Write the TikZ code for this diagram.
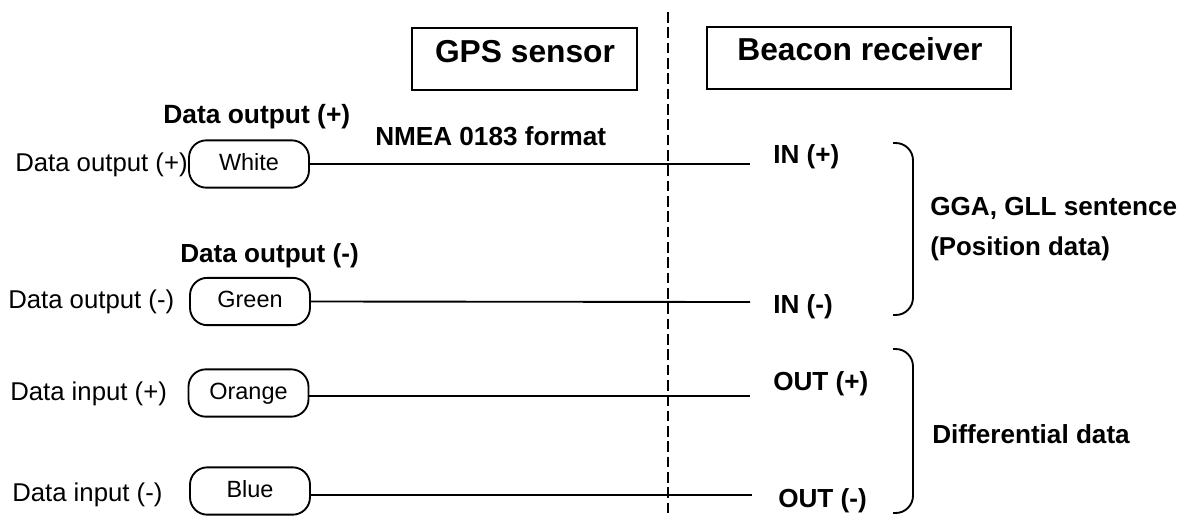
\documentclass[tikz,border=0pt]{standalone}
\usepackage{fontspec}
\setmainfont{Liberation Sans}
\begin{document}
\begin{tikzpicture}[x=0.75pt,y=-0.75pt,
  lbl/.style={inner sep=0pt, anchor=base west, font=\fontsize{19.3pt}{23pt}\selectfont},
  blbl/.style={inner sep=0pt, anchor=base west, font=\fontsize{19.6pt}{23pt}\selectfont\bfseries},
  hdr/.style={inner sep=0pt, anchor=base, font=\fontsize{23.8pt}{28pt}\selectfont\bfseries},
  hbox/.style={draw, line width=1.5pt, inner sep=0pt},
  pill/.style={draw, line width=1.4pt, rounded corners=13pt, minimum width=90pt, minimum height=35.5pt,
    inner sep=0pt, text height=12.8pt, text depth=3.7pt, font=\fontsize{17.6pt}{21pt}\selectfont},
  wire/.style={line width=1.4pt},
  brk/.style={line width=1.4pt, rounded corners=13pt},
  sep/.style={line width=1.1pt, dash pattern=on 8pt off 3.5pt}
]
\useasboundingbox (0,0) rectangle (1186,515);

% headers
\node[hbox, minimum width=168.75pt, minimum height=46.5pt] (gpsbox) at (524.5,59) {};
\node[hdr] (gps) at (525,62) {GPS sensor};
\node[hbox, minimum width=228pt, minimum height=46.5pt] (bcnbox) at (859,58) {};
\node[hdr] (bcn) at (860,60) {Beacon receiver};

% separator
\coordinate (septop) at (668,12);
\coordinate (sepbot) at (668,515);
\draw[sep] (septop) -- (sepbot);

% pills
\node[pill] (white) at (249,164) {White};
\node[pill] (green) at (250,301.5) {Green};
\node[pill] (orange) at (248.5,393) {Orange};
\node[pill] (blue) at (250,491) {Blue};

% left labels
\node[lbl] (l1) at (15,171) {Data output (+)};
\node[lbl] (l2) at (8,308) {Data output (-)};
\node[lbl] (l3) at (10,400) {Data input (+)};
\node[lbl] (l4) at (12,501) {Data input (-)};

% bold labels
\node[blbl, font=\fontsize{19.8pt}{23pt}\selectfont\bfseries] (b1) at (163,123) {Data output (+)};
\node[blbl] (b2) at (180,262) {Data output (-)};
\node[blbl] (nmea) at (375,145) {NMEA 0183 format};

% wires
\coordinate (e1) at (750,164);
\coordinate (e2) at (750,302);
\coordinate (e3) at (750,396);
\coordinate (e4) at (752,495);
\draw[wire] (white.east) -- (e1);
\draw[wire] (green.east) -- (e2);
\draw[wire] (orange.east |- e3) -- (e3);
\draw[wire] (blue.east |- e4) -- (e4);

% receiver labels
\node[blbl] (inp) at (773,163) {IN (+)};
\node[blbl] (inm) at (773,313) {IN (-)};
\node[blbl] (outp) at (773,390) {OUT (+)};
\node[blbl] (outm) at (778,507) {OUT (-)};

% brackets
\coordinate (k1a) at (893,143);
\coordinate (k1b) at (913,143);
\coordinate (k1c) at (913,315);
\coordinate (k1d) at (893,315);
\draw[brk] (k1a) -- (k1b) -- (k1c) -- (k1d);
\coordinate (k2a) at (893,349);
\coordinate (k2b) at (913,349);
\coordinate (k2c) at (913,513);
\coordinate (k2d) at (893,513);
\draw[brk] (k2a) -- (k2b) -- (k2c) -- (k2d);

% bracket labels
\node[blbl, font=\fontsize{19.6pt}{22pt}\selectfont\bfseries] (gga) at (930,215) {GGA, GLL sentence};
\node[blbl, font=\fontsize{19.4pt}{22pt}\selectfont\bfseries] (pos) at (930,255) {(Position data)};
\node[blbl] (diff) at (932,443) {Differential data};
\end{tikzpicture}
\end{document}
